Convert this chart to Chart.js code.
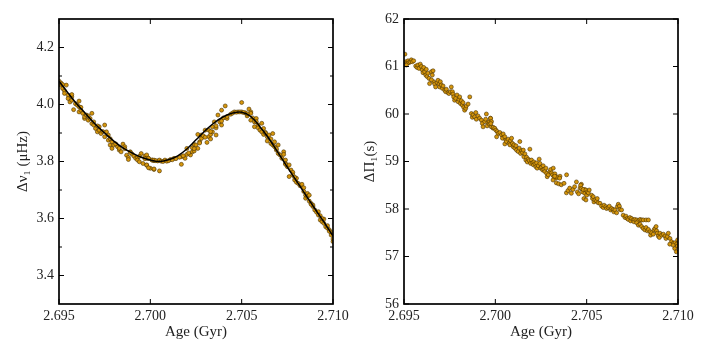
<!DOCTYPE html>
<html>
<head>
<meta charset="utf-8">
<script src="https://cdn.jsdelivr.net/npm/chart.js@4/dist/chart.umd.min.js"></script>
<style>
  body { margin: 0; background: #fff; }
  #left { position: absolute; left: 0; top: 0; }
  #right { position: absolute; left: 355px; top: 0; }
</style>
</head>
<body>
<canvas id="left" width="355" height="355"></canvas>
<canvas id="right" width="354" height="355"></canvas>
<script>
// left panel: scatter of Δν1 vs age
const leftAges = [
  2.6951, 2.6951, 2.6952, 2.6954, 2.6953, 2.6953, 2.6955, 2.6955, 2.6956, 2.6957, 2.6957, 2.6958,
  2.6959, 2.6960, 2.6961, 2.6961, 2.6961, 2.6962, 2.6963, 2.6964, 2.6964, 2.6965, 2.6966, 2.6967,
  2.6968, 2.6968, 2.6969, 2.6969, 2.6970, 2.6971, 2.6972, 2.6972, 2.6973, 2.6975, 2.6975, 2.6976,
  2.6977, 2.6977, 2.6978, 2.6979, 2.6979, 2.6980, 2.6982, 2.6983, 2.6983, 2.6984, 2.6985, 2.6986,
  2.6987, 2.6988, 2.6988, 2.6989, 2.6990, 2.6991, 2.6992, 2.6993, 2.6993, 2.6994, 2.6995, 2.6996,
  2.6997, 2.6998, 2.6999, 2.7000, 2.7001, 2.7002, 2.7002,
  2.6998, 2.6998, 2.6999, 2.7001, 2.7002, 2.7004, 2.7005, 2.6998, 2.6999, 2.7002, 2.7005, 2.7008,
  2.7011, 2.7013, 2.7017, 2.7017, 2.7019, 2.7020, 2.7020, 2.7022, 2.7023, 2.7023, 2.7024, 2.7024,
  2.7025, 2.7026, 2.7026, 2.7027, 2.7028, 2.7028, 2.7029, 2.7030, 2.7031, 2.7032, 2.7032, 2.7033,
  2.7033, 2.7034, 2.7034, 2.7035, 2.7036, 2.7036, 2.7037, 2.7038, 2.7039, 2.7039, 2.7040, 2.7041,
  2.7042,
  2.7046, 2.7048, 2.7050, 2.7052, 2.7050, 2.7054, 2.7055, 2.7053, 2.7055, 2.7056, 2.7055, 2.7057,
  2.7058, 2.7059, 2.7057, 2.7059, 2.7060, 2.7061, 2.7061, 2.7062, 2.7062, 2.7063, 2.7064, 2.7064,
  2.7065, 2.7066, 2.7066, 2.7067, 2.7067, 2.7068, 2.7068, 2.7069, 2.7070, 2.7070, 2.7071, 2.7072,
  2.7073, 2.7073, 2.7074, 2.7074, 2.7075, 2.7076, 2.7076, 2.7077, 2.7078, 2.7078, 2.7079, 2.7080,
  2.7080, 2.7081, 2.7082, 2.7083, 2.7084, 2.7085, 2.7085, 2.7086, 2.7086, 2.7087, 2.7087, 2.7088,
  2.7089, 2.7089, 2.7090, 2.7091, 2.7092, 2.7092, 2.7093, 2.7093, 2.7094, 2.7095, 2.7095, 2.7096,
  2.7097, 2.7097, 2.7098, 2.7099, 2.7099, 2.7100, 2.7100,
  2.6950, 2.6952, 2.6957, 2.6962, 2.6966, 2.6971, 2.6974, 2.6978, 2.6981, 2.6986, 2.6989, 2.6994,
  2.6997, 2.7003, 2.7006, 2.7007, 2.7009, 2.7010, 2.7012, 2.7014, 2.7016, 2.7018, 2.7021, 2.7024,
  2.7027, 2.7030, 2.7033, 2.7036, 2.7039, 2.7042, 2.7044, 2.7045, 2.7047, 2.7049, 2.7051, 2.7053,
  2.7058, 2.7063, 2.7069, 2.7074, 2.7079, 2.7084, 2.7088, 2.7094, 2.7098
];
const leftNu = [
  4.076, 4.068, 4.056, 4.068, 4.048, 4.039, 4.033, 4.021, 4.009, 4.027, 4.015, 3.982,
  4.003, 3.998, 3.992, 4.012, 3.974, 3.980, 3.969, 3.951, 3.957, 3.963, 3.945, 3.951,
  3.933, 3.969, 3.928, 3.939, 3.916, 3.904, 3.922, 3.910, 3.898, 3.928, 3.887, 3.904,
  3.893, 3.875, 3.858, 3.869, 3.846, 3.858, 3.852, 3.840, 3.846, 3.834, 3.861, 3.852,
  3.822, 3.814, 3.807, 3.834, 3.826, 3.819, 3.811, 3.814, 3.805, 3.799, 3.828, 3.793,
  3.819, 3.787, 3.811, 3.776, 3.805, 3.803, 3.772,
  3.823, 3.811, 3.811, 3.805, 3.805, 3.802, 3.805, 3.788, 3.778, 3.774, 3.767, 3.805,
  3.807, 3.811, 3.790, 3.817, 3.811, 3.825, 3.846, 3.823, 3.848, 3.834, 3.837, 3.860,
  3.858, 3.895, 3.846, 3.869, 3.893, 3.881, 3.890, 3.910, 3.867, 3.910, 3.887, 3.895,
  3.879, 3.922, 3.904, 3.939, 3.893, 3.918, 3.963, 3.939, 3.928, 3.980, 3.953, 3.995,
  3.951,
  3.974, 3.974, 3.974, 3.971, 4.007, 3.984, 3.974, 3.960, 3.969, 3.953, 3.945, 3.939,
  3.951, 3.928, 3.922, 3.918, 3.910, 3.934, 3.904, 3.916, 3.895, 3.902, 3.887, 3.872,
  3.893, 3.879, 3.863, 3.898, 3.858, 3.869, 3.852, 3.840, 3.828, 3.858, 3.823, 3.811,
  3.834, 3.825, 3.805, 3.793, 3.782, 3.788, 3.747, 3.770, 3.762, 3.753, 3.735, 3.741,
  3.727, 3.723, 3.715, 3.720, 3.708, 3.682, 3.671, 3.688, 3.677, 3.661, 3.682, 3.653,
  3.642, 3.647, 3.630, 3.622, 3.612, 3.624, 3.610, 3.595, 3.589, 3.598, 3.583, 3.571,
  3.566, 3.575, 3.560, 3.552, 3.542, 3.528, 3.519,
  4.082, 4.070, 4.035, 3.990, 3.960, 3.925, 3.905, 3.880, 3.862, 3.845, 3.832, 3.818,
  3.810, 3.803, 3.801, 3.800, 3.801, 3.803, 3.806, 3.810, 3.815, 3.820, 3.830, 3.845,
  3.865, 3.885, 3.905, 3.925, 3.942, 3.958, 3.966, 3.970, 3.973, 3.974, 3.972, 3.967,
  3.940, 3.900, 3.845, 3.790, 3.745, 3.695, 3.650, 3.600, 3.555
];

// fitted curve in left panel
const curveAges = [2.6950, 2.6955, 2.6960, 2.6965, 2.6970, 2.6975, 2.6980, 2.6985, 2.6990, 2.6995, 2.7000,
  2.7005, 2.7010, 2.7015, 2.7020, 2.7025, 2.7030, 2.7035, 2.7040, 2.7045, 2.7050,
  2.7055, 2.7060, 2.7065, 2.7070, 2.7075, 2.7080, 2.7085, 2.7090, 2.7095, 2.7100];
const curveNu = [4.082, 4.040, 4.000, 3.965, 3.930, 3.900, 3.872, 3.848, 3.830, 3.815, 3.805,
  3.800, 3.806, 3.820, 3.844, 3.876, 3.908, 3.936, 3.957, 3.970, 3.973,
  3.958, 3.922, 3.880, 3.830, 3.780, 3.732, 3.683, 3.635, 3.588, 3.538];

// right panel: ΔΠ1 vs age
const rightAges = [
  2.69505, 2.69509, 2.69516, 2.69522, 2.69527, 2.69534, 2.69540, 2.69545, 2.69553, 2.69513, 2.69564, 2.69571,
  2.69576, 2.69582, 2.69589, 2.69595, 2.69600, 2.69608, 2.69604, 2.69613, 2.69622, 2.69619, 2.69626, 2.69631,
  2.69637, 2.69640, 2.69650, 2.69655, 2.69659, 2.69662, 2.69650, 2.69668, 2.69673, 2.69681, 2.69686, 2.69692,
  2.69695, 2.69699, 2.69704, 2.69710, 2.69714, 2.69723, 2.69728, 2.69732, 2.69741, 2.69746, 2.69754, 2.69759,
  2.69765, 2.69768, 2.69772, 2.69777, 2.69783, 2.69790, 2.69796, 2.69801, 2.69805, 2.69809, 2.69814, 2.69819,
  2.69823, 2.69827, 2.69832, 2.69838, 2.69841, 2.69851, 2.69860, 2.69869, 2.69874, 2.69878, 2.69887, 2.69893,
  2.69896, 2.69905, 2.69914, 2.69924, 2.69929, 2.69933, 2.69942, 2.69947, 2.69951, 2.69955, 2.69960, 2.69966,
  2.69969, 2.69973, 2.69978, 2.69988,
  2.69974, 2.69979, 2.69975, 2.69988, 2.69997, 2.70003, 2.70010, 2.70016, 2.70007, 2.70025, 2.70034, 2.70043,
  2.70039, 2.70052, 2.70058, 2.70052, 2.70061, 2.70070, 2.70076, 2.70080, 2.70083, 2.70089, 2.70094, 2.70098,
  2.70102, 2.70107, 2.70113, 2.70116, 2.70125, 2.70131, 2.70134, 2.70138, 2.70144, 2.70149, 2.70153, 2.70156,
  2.70162, 2.70167, 2.70171, 2.70175, 2.70180, 2.70186, 2.70189, 2.70193, 2.70198, 2.70204, 2.70208, 2.70211,
  2.70217, 2.70222, 2.70226, 2.70229, 2.70235, 2.70240, 2.70244, 2.70248, 2.70253, 2.70259, 2.70262, 2.70266,
  2.70271, 2.70277, 2.70281, 2.70284, 2.70290, 2.70299, 2.70303, 2.70308, 2.70313, 2.70317, 2.70321, 2.70326,
  2.70332, 2.70335, 2.70354, 2.70390,
  2.70316, 2.70334, 2.70347, 2.70361, 2.70376, 2.70325, 2.70352,
  2.70389, 2.70398, 2.70407, 2.70416, 2.70425, 2.70434, 2.70444, 2.70449, 2.70456, 2.70464, 2.70471, 2.70480,
  2.70489, 2.70498,
  2.70467, 2.70472, 2.70478, 2.70481, 2.70490, 2.70496, 2.70500, 2.70503, 2.70509, 2.70514, 2.70485, 2.70496,
  2.70527, 2.70532, 2.70536, 2.70540, 2.70545, 2.70554, 2.70563, 2.70558, 2.70573, 2.70582, 2.70591, 2.70595,
  2.70605, 2.70609, 2.70618, 2.70624, 2.70631, 2.70637, 2.70646, 2.70649, 2.70655, 2.70664, 2.70668, 2.70673,
  2.70679, 2.70682, 2.70691, 2.70700, 2.70710, 2.70715, 2.70722, 2.70728, 2.70737, 2.70741, 2.70746, 2.70755,
  2.70759, 2.70764, 2.70774, 2.70783, 2.70792, 2.70801, 2.70810, 2.70825, 2.70838, 2.70774, 2.70783, 2.70792,
  2.70801, 2.70810, 2.70819, 2.70825, 2.70832, 2.70838, 2.70847, 2.70850, 2.70856, 2.70865, 2.70869, 2.70874,
  2.70880, 2.70883, 2.70887, 2.70892, 2.70898, 2.70901, 2.70911, 2.70920, 2.70929, 2.70934, 2.70942, 2.70947,
  2.70956, 2.70965, 2.70975, 2.70984, 2.70993, 2.70998,
  2.70982, 2.70991, 2.70997, 2.70973, 2.70955
];
const rightPi = [
  61.26, 61.10, 61.07, 61.12, 61.08, 61.10, 61.14, 61.10, 61.12, 61.03, 61.01, 60.98,
  61.03, 60.96, 61.05, 61.00, 60.93, 60.98, 60.87, 60.89, 60.94, 60.82, 60.79, 60.86,
  60.75, 60.64, 60.89, 60.82, 60.91, 60.68, 60.72, 60.63, 60.57, 60.66, 60.71, 60.63,
  60.57, 60.68, 60.61, 60.54, 60.59, 60.50, 60.47, 60.52, 60.45, 60.43, 60.47, 60.57,
  60.47, 60.42, 60.36, 60.29, 60.33, 60.40, 60.26, 60.31, 60.36, 60.22, 60.28, 60.19,
  60.24, 60.14, 60.08, 60.12, 60.17, 60.21, 60.36, 60.01, 59.93, 59.98, 59.94, 60.03,
  59.89, 59.96, 59.91, 59.87, 59.80, 59.73, 59.84, 59.89, 60.00, 59.75, 59.82, 59.79,
  59.84, 59.91, 59.73, 59.70,
  59.91, 59.84, 59.80, 59.72, 59.70, 59.66, 59.63, 59.59, 59.52, 59.61, 59.56, 59.58,
  59.49, 59.52, 59.45, 59.37, 59.42, 59.47, 59.38, 59.35, 59.44, 59.49, 59.38, 59.31,
  59.35, 59.28, 59.33, 59.24, 59.21, 59.28, 59.42, 59.17, 59.23, 59.19, 59.24, 59.10,
  59.16, 59.03, 59.09, 58.99, 59.05, 59.02, 59.26, 58.96, 59.03, 58.97, 58.93, 58.99,
  58.95, 58.89, 58.97, 58.86, 58.91, 59.05, 58.96, 58.86, 58.88, 58.82, 58.91, 58.83,
  58.79, 58.86, 58.75, 58.68, 58.72, 58.79, 58.83, 58.76, 58.72, 58.86, 58.68, 58.74,
  58.65, 58.68, 58.69, 58.72,
  58.61, 58.55, 58.53, 58.51, 58.54, 58.69, 58.65,
  58.34, 58.39, 58.44, 58.33, 58.41, 58.47, 58.57, 58.36, 58.32, 58.44, 58.52, 58.39,
  58.41, 58.34,
  58.50, 58.43, 58.36, 58.41, 58.33, 58.40, 58.29, 58.36, 58.34, 58.40, 58.22, 58.19,
  58.29, 58.22, 58.26, 58.15, 58.19, 58.17, 58.13, 58.22, 58.12, 58.06, 58.03, 58.08,
  58.05, 58.01, 58.03, 58.06, 57.98, 58.01, 57.99, 57.94, 57.98, 57.92, 58.05, 58.10,
  58.06, 57.99, 57.98, 57.87, 57.82, 57.85, 57.80, 57.78, 57.82, 57.75, 57.80, 57.77,
  57.73, 57.78, 57.77, 57.75, 57.78, 57.77, 57.77, 57.77, 57.77, 57.71, 57.66, 57.68,
  57.63, 57.59, 57.56, 57.61, 57.54, 57.57, 57.52, 57.45, 57.50, 57.47, 57.56, 57.59,
  57.63, 57.54, 57.49, 57.43, 57.40, 57.49, 57.45, 57.47, 57.43, 57.38, 57.42, 57.49,
  57.38, 57.31, 57.28, 57.29, 57.26, 57.35,
  57.17, 57.10, 57.22, 57.24, 57.26
];

const xTicks = [2.695, 2.700, 2.705, 2.710];
const nuTicks = [3.4, 3.6, 3.8, 4.0, 4.2];
const nuMinorTicks = [3.5, 3.7, 3.9, 4.1];
const piTicks = [56, 57, 58, 59, 60, 61, 62];

const serif = "'Liberation Serif', 'Times New Roman', serif";
const dotFill = '#d6960c';
const dotEdge = '#4a3204';

// frame + inward ticks on all four sides
const frameTicks = {
  id: 'frameTicks',
  afterDraw(chart, args, opts) {
    const { ctx, chartArea: a, scales } = chart;
    ctx.save();
    ctx.strokeStyle = '#000';
    ctx.lineWidth = 1;
    ctx.beginPath();
    const xMark = (v, len) => {
      const px = scales.x.getPixelForValue(v);
      ctx.moveTo(px, a.bottom); ctx.lineTo(px, a.bottom - len);
      ctx.moveTo(px, a.top); ctx.lineTo(px, a.top + len);
    };
    const yMark = (v, len) => {
      const py = scales.y.getPixelForValue(v);
      ctx.moveTo(a.left, py); ctx.lineTo(a.left + len, py);
      ctx.moveTo(a.right, py); ctx.lineTo(a.right - len, py);
    };
    opts.xMajor.forEach(v => xMark(v, 5));
    opts.yMajor.forEach(v => yMark(v, 5));
    (opts.yMinor || []).forEach(v => yMark(v, 3));
    ctx.stroke();
    ctx.lineWidth = 1.7;
    ctx.strokeRect(a.left, a.top, a.width, a.height);
    ctx.restore();
  }
};

function toPoints(xs, ys) {
  return xs.map((x, i) => ({ x: x, y: ys[i] }));
}

function makeChart(id, cfg) {
  const datasets = [{
    type: 'scatter',
    data: toPoints(cfg.ages, cfg.values),
    backgroundColor: dotFill,
    borderColor: dotEdge,
    borderWidth: 0.6,
    pointRadius: 2,
    order: 1
  }];
  if (cfg.curve) {
    // curve is drawn over the dots
    datasets.push({
      type: 'line',
      data: toPoints(cfg.curve[0], cfg.curve[1]),
      borderColor: '#000',
      borderWidth: 1.5,
      pointRadius: 0,
      fill: false,
      tension: 0.4,
      order: 0
    });
  }
  return new Chart(document.getElementById(id), {
    data: { datasets: datasets },
    options: {
      responsive: false,
      animation: false,
      events: [],
      layout: { padding: { left: 0, right: cfg.padRight, top: 19, bottom: 0 } },
      plugins: {
        legend: { display: false },
        tooltip: { enabled: false },
        frameTicks: { xMajor: xTicks, yMajor: cfg.yTicks, yMinor: cfg.yMinor }
      },
      scales: {
        x: {
          type: 'linear',
          min: 2.695,
          max: 2.710,
          afterBuildTicks: s => { s.ticks = xTicks.map(v => ({ value: v })); },
          afterFit: s => { s.height = 51; },
          grid: { display: false, drawTicks: false },
          border: { display: false },
          ticks: {
            callback: v => v.toFixed(3),
            font: { family: serif, size: 14 },
            color: '#222',
            padding: 4,
            maxRotation: 0,
            autoSkip: false
          },
          title: {
            display: true,
            text: 'Age (Gyr)',
            font: { family: serif, size: 15 },
            color: '#222',
            padding: { top: 0, bottom: 14 }
          }
        },
        y: {
          type: 'linear',
          min: cfg.yMin,
          max: cfg.yMax,
          afterBuildTicks: s => { s.ticks = cfg.yTicks.map(v => ({ value: v })); },
          afterFit: s => { s.width = cfg.axisWidth; },
          grid: { display: false, drawTicks: false },
          border: { display: false },
          ticks: {
            callback: cfg.yFormat,
            font: { family: serif, size: 14 },
            color: '#222',
            padding: 5,
            autoSkip: false
          },
          title: {
            display: true,
            text: cfg.yTitle,
            font: { family: serif, size: 15 },
            color: '#222',
            padding: { top: cfg.titlePad, bottom: 0 }
          }
        }
      }
    },
    plugins: [frameTicks]
  });
}

makeChart('left', {
  ages: leftAges,
  values: leftNu,
  curve: [curveAges, curveNu],
  yMin: 3.3,
  yMax: 4.3,
  yTicks: nuTicks,
  yMinor: nuMinorTicks,
  yFormat: v => v.toFixed(1),
  yTitle: 'Δν₁ (μHz)',
  axisWidth: 59,
  padRight: 22,
  titlePad: 14
});

makeChart('right', {
  ages: rightAges,
  values: rightPi,
  yMin: 56,
  yMax: 62,
  yTicks: piTicks,
  yFormat: v => String(v),
  yTitle: 'ΔΠ₁(s)',
  axisWidth: 49,
  padRight: 31,
  titlePad: 6
});
</script>
</body>
</html>
